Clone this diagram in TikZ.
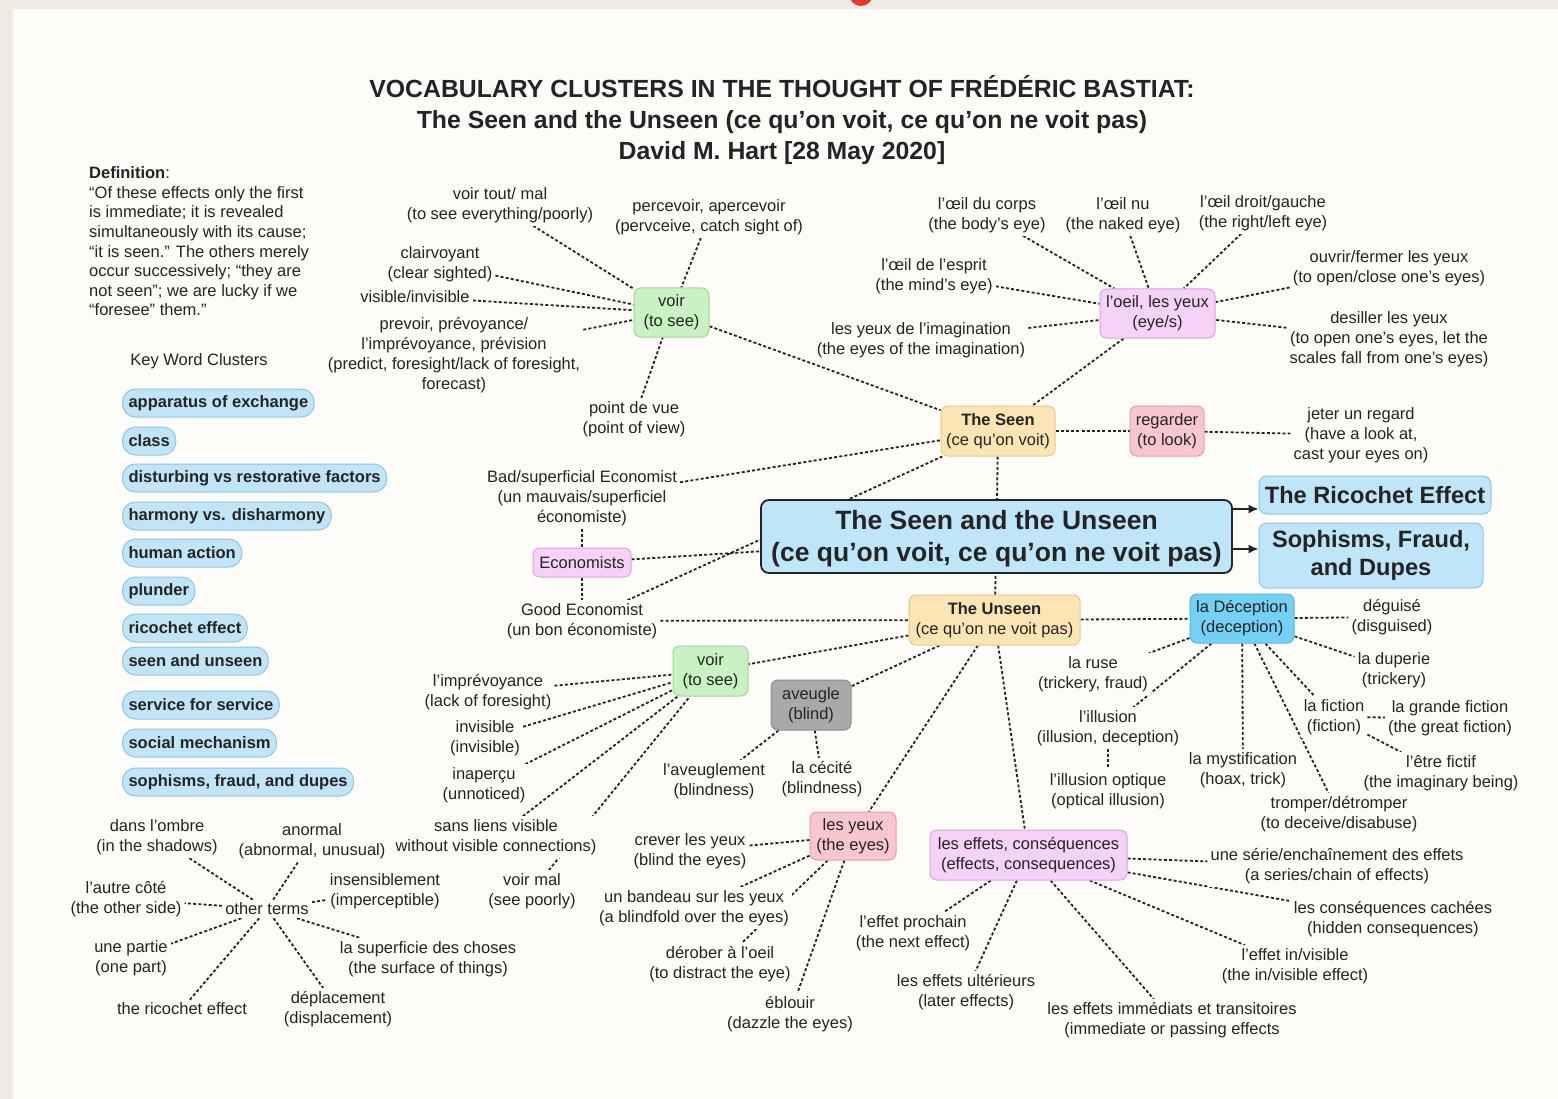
\documentclass[tikz,border=0pt]{standalone}
\usepackage{fontspec}
\setmainfont{Liberation Sans}
\usetikzlibrary{arrows.meta}
\definecolor{pagebg}{HTML}{FDFCF8}
\definecolor{outerbg}{HTML}{EEEAE4}
\definecolor{txt}{HTML}{242424}
\definecolor{grfill}{HTML}{C9F1C3}
\definecolor{grdraw}{HTML}{9FD99A}
\definecolor{orfill}{HTML}{FCE5B4}
\definecolor{ordraw}{HTML}{E6C889}
\definecolor{lifill}{HTML}{F6D2F8}
\definecolor{lidraw}{HTML}{D9A7E0}
\definecolor{pkfill}{HTML}{F8C6CE}
\definecolor{pkdraw}{HTML}{E79AA8}
\definecolor{blfill}{HTML}{74D0F4}
\definecolor{bldraw}{HTML}{4FB9E6}
\definecolor{gyfill}{HTML}{A9A9A9}
\definecolor{gydraw}{HTML}{8E8E8E}
\definecolor{pillfill}{HTML}{C1E4F7}
\definecolor{pilldraw}{HTML}{8FC7E6}
\definecolor{mainfill}{HTML}{BFE5F8}
\definecolor{reddot}{HTML}{E03A2A}
\pgfdeclarelayer{bglayer}
\pgfdeclarelayer{edgelayer}
\pgfsetlayers{bglayer,edgelayer,main}
\newcommand\lblfont{\fontsize{16.5}{19.8}\selectfont}
\newcommand\deffont{\fontsize{16.5}{19.6}\selectfont}
\tikzset{
  lbl/.style={align=center, font=\lblfont, fill=pagebg, inner sep=3pt, text=txt},
  bx/.style={align=center, font=\lblfont, rounded corners=7pt, line width=1pt, inner sep=2pt, text=txt},
  greenbx/.style={bx, fill=grfill, draw=grdraw},
  orangebx/.style={bx, fill=orfill, draw=ordraw},
  lilacbx/.style={bx, fill=lifill, draw=lidraw},
  pinkbx/.style={bx, fill=pkfill, draw=pkdraw},
  bluebx/.style={bx, fill=blfill, draw=bldraw},
  greybx/.style={bx, fill=gyfill, draw=gydraw},
  pill/.style={font=\lblfont\bfseries, fill=pillfill, draw=pilldraw, line width=1pt, rounded corners=13pt, minimum height=28pt, inner xsep=6pt, inner ysep=0pt, anchor=west, text=txt},
  bigbx/.style={align=center, fill=mainfill, rounded corners=8pt, text=txt, inner sep=2pt},
  con/.style={draw=txt, line width=1.8pt, dash pattern=on 3pt off 2.2pt},
  arr/.style={draw=txt, line width=1.6pt, -{Latex[length=10pt,width=9pt]}}
}
\begin{document}
\begin{tikzpicture}[x=1pt,y=-1pt]
\useasboundingbox (0,0) rectangle (1558,1099);

% title and definition
\node[align=center, font=\fontsize{24.8}{31}\selectfont\bfseries, text=txt] (title) at (782,120)
  {VOCABULARY CLUSTERS IN THE THOUGHT OF FRÉDÉRIC BASTIAT:\\The Seen and the Unseen (ce qu’on voit, ce qu’on ne voit pas)\\David M. Hart [28 May 2020]};
\node[anchor=west, align=left, font=\deffont, text=txt, inner sep=0pt] (defn) at (89,241.5)
  {\textbf{Definition}:\\“Of these effects only the first\\is immediate; it is revealed\\simultaneously with its cause;\\“it is seen.” The others merely\\occur successively; “they are\\not seen”; we are lucky if we\\“foresee” them.”};
\node[lbl] (kwc) at (199,361) {Key Word Clusters};

% key word pills
\node[pill] (p1) at (122,403) {apparatus of exchange};
\node[pill] (p2) at (122,441) {class};
\node[pill] (p3) at (122,478) {disturbing vs restorative factors};
\node[pill] (p4) at (122,516) {harmony vs. disharmony};
\node[pill] (p5) at (122,553) {human action};
\node[pill] (p6) at (122,591) {plunder};
\node[pill] (p7) at (122,628) {ricochet effect};
\node[pill] (p8) at (122,661) {seen and unseen};
\node[pill] (p9) at (122,705) {service for service};
\node[pill] (p10) at (122,743) {social mechanism};
\node[pill] (p11) at (122,782) {sophisms, fraud, and dupes};

% central boxes
\node[bigbx, draw=txt, line width=1.8pt, minimum width=471pt, minimum height=73pt, inner ysep=0pt, font=\fontsize{26.5}{32}\selectfont\bfseries] (main) at (996.5,536.5)
  {\rule{0pt}{24pt}The Seen and the Unseen\\(ce qu’on voit, ce qu’on ne voit pas)};
\node[bigbx, draw=pilldraw, line width=1pt, minimum width=232pt, minimum height=38pt, font=\fontsize{23.6}{28}\selectfont\bfseries] (ric) at (1375,495) {The Ricochet Effect};
\node[bigbx, draw=pilldraw, line width=1pt, minimum width=224pt, minimum height=65pt, font=\fontsize{23.6}{28}\selectfont\bfseries] (soph) at (1371,555.5) {Sophisms, Fraud,\\and Dupes};
\draw[arr] (main.east |- 0,509) -- (ric.west |- 0,509);
\draw[arr] (main.east |- 0,549) -- (soph.west |- 0,549);

% cluster boxes
\node[greenbx, minimum width=75pt, minimum height=49pt] (voirA) at (671.5,312.5) {voir\\(to see)};
\node[orangebx, minimum width=114pt, minimum height=50pt] (seen) at (998,431) {\textbf{The Seen}\\(ce qu’on voit)};
\node[pinkbx, minimum width=74pt, minimum height=50pt] (regard) at (1167,431) {regarder\\(to look)};
\node[lilacbx, minimum width=115pt, minimum height=49pt] (oeil) at (1157.5,313.5) {l’oeil, les yeux\\(eye/s)};
\node[lilacbx, minimum width=98pt, minimum height=29pt] (econ) at (582,562.5) {Economists};
\node[orangebx, minimum width=171pt, minimum height=50pt] (unseen) at (994.5,620) {\textbf{The Unseen}\\(ce qu’on ne voit pas)};
\node[bluebx, minimum width=104pt, minimum height=49pt] (decep) at (1242,618.5) {la Déception\\(deception)};
\node[greenbx, minimum width=75pt, minimum height=50pt] (voirB) at (710.5,671) {voir\\(to see)};
\node[greybx, minimum width=80pt, minimum height=50pt] (aveugle) at (811,705) {aveugle\\(blind)};
\node[pinkbx, minimum width=86pt, minimum height=48pt] (yeux) at (853,836) {les yeux\\(the eyes)};
\node[lilacbx, minimum width=197pt, minimum height=50pt] (effets) at (1028.5,855) {les effets, conséquences\\(effects, consequences)};

% labels: top voir
\node[lbl] (vtout) at (500,205) {voir tout/ mal\\(to see everything/poorly)};
\node[lbl] (perc) at (709,217) {percevoir, apercevoir\\(pervceive, catch sight of)};
\node[lbl] (clair) at (440,264) {clairvoyant\\(clear sighted)};
\node[lbl] (visib) at (415,297) {visible/invisible};
\node[lbl] (prev) at (454,355) {prevoir, prévoyance/\\l’imprévoyance, prévision\\(predict, foresight/lack of foresight,\\forecast)};
\node[lbl] (pdv) at (634,419) {point de vue\\(point of view)};

% labels: oeil
\node[lbl] (corps) at (987,215) {l’œil du corps\\(the body’s eye)};
\node[lbl] (nu) at (1123,215) {l’œil nu\\(the naked eye)};
\node[lbl] (droit) at (1263,213) {l’œil droit/gauche\\(the right/left eye)};
\node[lbl] (esprit) at (934,276) {l’œil de l’esprit\\(the mind’s eye)};
\node[lbl] (imag) at (921,340) {les yeux de l’imagination\\(the eyes of the imagination)};
\node[lbl] (ouvrir) at (1389,268) {ouvrir/fermer les yeux\\(to open/close one’s eyes)};
\node[lbl] (desil) at (1389,339) {desiller les yeux\\(to open one’s eyes, let the\\scales fall from one’s eyes)};
\node[lbl] (jeter) at (1361,435) {jeter un regard\\(have a look at,\\cast your eyes on)};

% labels: economists
\node[lbl] (bad) at (582,498) {Bad/superficial Economist\\(un mauvais/superficiel\\économiste)};
\node[lbl] (good) at (582,621) {Good Economist\\(un bon économiste)};

% labels: deception
\node[lbl] (deguise) at (1392,617) {déguisé\\(disguised)};
\node[lbl] (duper) at (1394,670) {la duperie\\(trickery)};
\node[lbl] (ruse) at (1093,674) {la ruse\\(trickery, fraud)};
\node[lbl] (illu) at (1108,728) {l’illusion\\(illusion, deception)};
\node[lbl] (illo) at (1108,791) {l’illusion optique\\(optical illusion)};
\node[lbl] (myst) at (1243,770) {la mystification\\(hoax, trick)};
\node[lbl] (tromp) at (1339,814) {tromper/détromper\\(to deceive/disabuse)};
\node[lbl] (fict) at (1334,717) {la fiction\\(fiction)};
\node[lbl] (gfict) at (1450,718) {la grande fiction\\(the great fiction)};
\node[lbl] (etre) at (1441,773) {l’être fictif\\(the imaginary being)};

% labels: effets
\node[lbl] (serie) at (1337,866) {une série/enchaînement des effets\\(a series/chain of effects)};
\node[lbl] (cache) at (1393,919) {les conséquences cachées\\(hidden consequences)};
\node[lbl] (invis) at (1295,966) {l’effet in/visible\\(the in/visible effect)};
\node[lbl] (immed) at (1172,1020) {les effets immédiats et transitoires\\(immediate or passing effects};
\node[lbl] (ulter) at (966,992) {les effets ultérieurs\\(later effects)};
\node[lbl] (proch) at (913,933) {l’effet prochain\\(the next effect)};

% labels: voir bottom
\node[lbl] (imprev) at (488,692) {l’imprévoyance\\(lack of foresight)};
\node[lbl] (invisb) at (485,738) {invisible\\(invisible)};
\node[lbl] (inap) at (484,785) {inaperçu\\(unnoticed)};
\node[lbl] (sans) at (496,837) {sans liens visible\\without visible connections)};
\node[lbl] (vmal) at (532,891) {voir mal\\(see poorly)};

% labels: aveugle and yeux
\node[lbl] (aveugl) at (714,781) {l’aveuglement\\(blindness)};
\node[lbl] (cecite) at (822,779) {la cécité\\(blindness)};
\node[lbl] (crever) at (690,851) {crever les yeux\\(blind the eyes)};
\node[lbl] (bande) at (694,908) {un bandeau sur les yeux\\(a blindfold over the eyes)};
\node[lbl] (derob) at (720,964) {dérober à l’oeil\\(to distract the eye)};
\node[lbl] (eblou) at (790,1014) {éblouir\\(dazzle the eyes)};

% labels: other terms
\node[lbl] (other) at (267,909) {other terms};
\node[lbl] (ombre) at (157,837) {dans l’ombre\\(in the shadows)};
\node[lbl] (anorm) at (312,841) {anormal\\(abnormal, unusual)};
\node[lbl] (insens) at (385,891) {insensiblement\\(imperceptible)};
\node[lbl] (autre) at (126,899) {l’autre côté\\(the other side)};
\node[lbl] (partie) at (131,958) {une partie\\(one part)};
\node[lbl] (ricoch) at (182,1009) {the ricochet effect};
\node[lbl] (depl) at (338,1009) {déplacement\\(displacement)};
\node[lbl] (superf) at (428,959) {la superficie des choses\\(the surface of things)};

\fill[reddot] (861,-6) circle (12pt);

\begin{pgfonlayer}{bglayer}
  \fill[outerbg] (0,0) rectangle (1558,1099);
  \fill[pagebg] (13,9) rectangle (1558,1099);
\end{pgfonlayer}

\begin{pgfonlayer}{edgelayer}
  % top voir
  \draw[con] (vtout) -- (voirA);
  \draw[con] (perc) -- (voirA);
  \draw[con] (clair) -- (voirA);
  \draw[con] (visib) -- (voirA);
  \draw[con] (prev) -- (voirA);
  \draw[con] (pdv) -- (voirA);
  \draw[con] (voirA) -- (seen);
  % oeil
  \draw[con] (corps) -- (oeil);
  \draw[con] (nu) -- (oeil);
  \draw[con] (droit) -- (oeil);
  \draw[con] (esprit) -- (oeil);
  \draw[con] (imag) -- (oeil);
  \draw[con] (ouvrir) -- (oeil);
  \draw[con] (desil) -- (oeil);
  \draw[con] (oeil) -- (seen);
  % seen
  \draw[con] (seen) -- (regard);
  \draw[con] (regard) -- (jeter);
  \draw[con] (seen) -- (main);
  \draw[con] (bad) -- (seen);
  \draw[con] (good) -- (seen);
  \draw[con] (bad) -- (econ);
  \draw[con] (econ) -- (good);
  \draw[con] (econ) -- (main);
  % unseen
  \draw[con] (unseen) -- (main);
  \draw[con] (good) -- (unseen);
  \draw[con] (unseen) -- (decep);
  \draw[con] (unseen) -- (voirB);
  \draw[con] (unseen) -- (aveugle);
  \draw[con] (unseen) -- (yeux);
  \draw[con] (unseen) -- (effets);
  % deception
  \draw[con] (decep) -- (deguise);
  \draw[con] (decep) -- (duper);
  \draw[con] (decep) -- (ruse);
  \draw[con] (decep) -- (illu);
  \draw[con] (illu) -- (illo);
  \draw[con] (decep) -- (myst);
  \draw[con] (decep) -- (tromp);
  \draw[con] (decep) -- (fict);
  \draw[con] (fict) -- (gfict);
  \draw[con] (fict) -- (etre);
  % effets
  \draw[con] (effets) -- (serie);
  \draw[con] (effets) -- (cache);
  \draw[con] (effets) -- (invis);
  \draw[con] (effets) -- (immed);
  \draw[con] (effets) -- (ulter);
  \draw[con] (effets) -- (proch);
  % voir bottom
  \draw[con] (imprev) -- (voirB);
  \draw[con] (invisb) -- (voirB);
  \draw[con] (inap) -- (voirB);
  \draw[con] (sans) -- (voirB);
  \draw[con] (vmal) -- (voirB);
  % aveugle, yeux
  \draw[con] (aveugle) -- (aveugl);
  \draw[con] (aveugle) -- (cecite);
  \draw[con] (yeux) -- (crever);
  \draw[con] (yeux) -- (bande);
  \draw[con] (yeux) -- (derob);
  \draw[con] (yeux) -- (eblou);
  % other terms
  \draw[con] (other) -- (ombre);
  \draw[con] (other) -- (anorm);
  \draw[con] (other) -- (insens);
  \draw[con] (other) -- (autre);
  \draw[con] (other) -- (partie);
  \draw[con] (other) -- (ricoch);
  \draw[con] (other) -- (depl);
  \draw[con] (other) -- (superf);
\end{pgfonlayer}
\end{tikzpicture}
\end{document}
